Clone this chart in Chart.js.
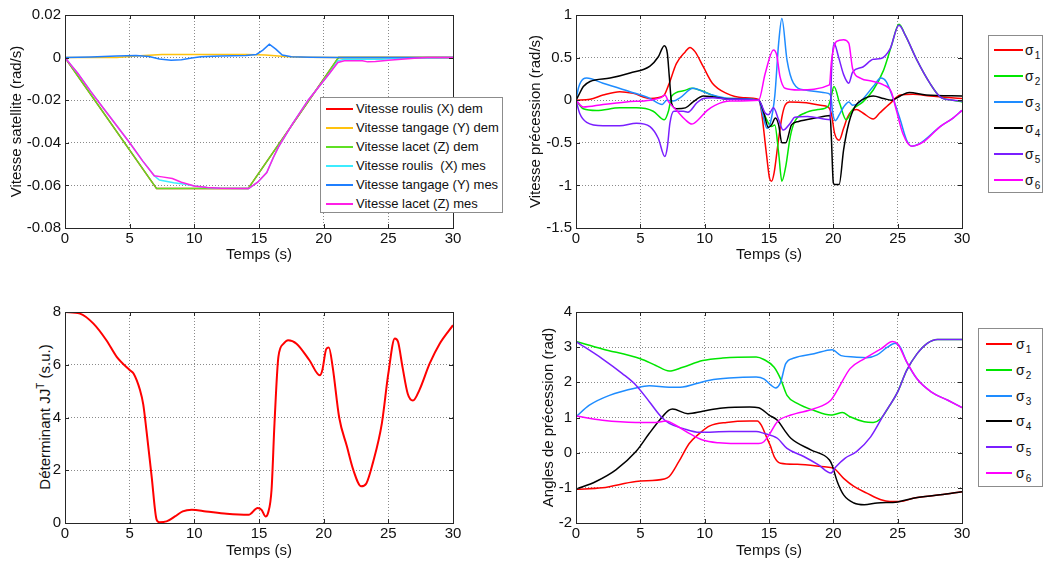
<!DOCTYPE html>
<html>
<head>
<meta charset="utf-8">
<script src="https://cdn.jsdelivr.net/npm/chart.js@4/dist/chart.umd.min.js"></script>
<style>
  body{margin:0;background:#fff;width:1045px;height:563px;overflow:hidden;position:relative;font-family:"Liberation Sans",Arial,sans-serif}
  canvas{position:absolute}
  .lg{position:absolute;background:#fff;border:1px solid #8c8c8c;box-sizing:border-box;font-size:14px;color:#111;z-index:5}
  .lg .row{position:absolute;white-space:pre;height:16px;line-height:16px}
  .lg .ln{position:absolute;height:2px}
  .lg sub{font-size:10px;vertical-align:-4px;margin-left:1px}
  .lg.small{font-size:13px}
  #ytit3{position:absolute;left:43px;top:417px;transform:translate(-50%,-50%) rotate(-90deg);white-space:nowrap;font-size:15px;color:#111;line-height:18px}
  #ytit3 sup{font-size:10px;vertical-align:6px}
</style>
</head>
<body>
<div id="ytit3">Déterminant JJ<sup>T</sup> (s.u.)</div>
<script>
// ---- data : [temps (s), valeur] ----
const xTicks = [0, 5, 10, 15, 20, 25, 30];

// panneau 1 : vitesse satellite (rad/s)
const p1Ticks = [-0.08, -0.06, -0.04, -0.02, 0, 0.02];
const roulisDem = [[0,0],[7.08,-0.0615],[14.16,-0.0615],[21.15,0],[30,0]];
const tangageDem = [[0,0],[4,0],[5.5,0.0008],[7.5,0.0015],[14,0.0015],[15.5,0.0012],[17,0.0005],[18.5,0.0002],[21,0],[30,0]];
const lacetDem = [[0,0],[7.08,-0.0615],[14.16,-0.0615],[21.15,0],[30,0]];
const roulisMes = [[0,0],[1,-0.0075],[2,-0.016],[3,-0.024],[4,-0.032],[5,-0.04],[6,-0.0485],[6.9,-0.0555],[7.3,-0.0575],[8.4,-0.0588],[9.3,-0.0595],[10,-0.0603],[11,-0.061],[12,-0.0613],[14.2,-0.0615],[14.9,-0.0585],[15.6,-0.054],[16.1,-0.047],[16.5,-0.042],[17.6,-0.031],[18.8,-0.02],[19.8,-0.0124],[20.5,-0.007],[21.1,-0.0015],[21.6,-0.0008],[24.5,-0.0008],[25.5,-0.0003],[30,0]];
const tangageMes = [[0,0],[2,0.0003],[4,0.0008],[5.5,0.001],[6.5,0.0005],[7.3,-0.0007],[8.2,-0.0012],[9,-0.001],[9.8,-0.0002],[10.5,0.0004],[12,0.0008],[14,0.001],[14.8,0.0015],[15.3,0.0035],[15.8,0.0063],[16.3,0.004],[16.8,0.0012],[17.5,0.0004],[19,0.0002],[21,0.0001],[23,0],[30,0]];
const lacetMes = [[0,0],[1,-0.0075],[2,-0.016],[3,-0.024],[4,-0.032],[5,-0.04],[6,-0.0485],[6.9,-0.0555],[7.5,-0.056],[8.3,-0.0568],[9,-0.0585],[10,-0.0603],[11,-0.061],[12,-0.0613],[14.2,-0.0615],[14.9,-0.0585],[15.6,-0.054],[16.1,-0.047],[16.5,-0.042],[17.6,-0.031],[18.8,-0.02],[19.8,-0.0124],[20.5,-0.007],[21.1,-0.0023],[21.6,-0.0015],[23,-0.0015],[23.4,-0.002],[24,-0.0018],[25,-0.0012],[26,-0.0008],[27,-0.0003],[28,0],[30,0]];
const p1Labels = ['Vitesse roulis (X) dem','Vitesse tangage (Y) dem','Vitesse lacet (Z) dem','Vitesse roulis  (X) mes','Vitesse tangage (Y) mes','Vitesse lacet (Z) mes'];

// panneau 2 : vitesse precession (rad/s)
const p2Ticks = [-1.5, -1, -0.5, 0, 0.5, 1];
const vSig1 = [[0,0],[1.1,0.01],[2.1,0.06],[3.4,0.1],[4.45,0.08],[5.75,0.02],[6.8,0.05],[7.2,0.18],[7.8,0.43],[8.5,0.57],[8.85,0.62],[9.25,0.57],[9.9,0.39],[10.6,0.2],[11.7,0.08],[13,0.03],[14.2,0.01],[14.4,-0.12],[14.8,-0.63],[15.05,-0.92],[15.2,-0.95],[15.4,-0.85],[15.7,-0.51],[16,-0.2],[16.25,-0.06],[16.6,-0.02],[17.9,-0.03],[19,-0.06],[19.6,-0.08],[19.85,-0.16],[20.1,-0.39],[20.45,-0.47],[20.8,-0.33],[21.1,-0.2],[21.4,-0.13],[21.8,-0.11],[22.3,-0.15],[23.1,-0.22],[23.6,-0.15],[24.4,-0.04],[25.2,0.06],[26.2,0.07],[27.5,0.05],[30,0.02]];
const vSig2 = [[0,0],[0.57,-0.1],[1.6,-0.12],[3.4,-0.09],[4.7,-0.09],[6,-0.13],[6.86,-0.23],[7.2,-0.12],[7.44,0.05],[8.35,0.11],[9,0.14],[9.6,0.12],[10.6,0.06],[11.5,0.02],[14.2,0],[14.7,-0.19],[15.2,-0.31],[15.45,-0.29],[15.75,-0.62],[16,-0.95],[16.3,-0.78],[16.65,-0.43],[17,-0.25],[17.8,-0.15],[18.8,-0.11],[19.6,-0.07],[19.8,0.02],[20.05,0.16],[20.5,-0.04],[21,-0.23],[21.5,-0.11],[22.3,-0.02],[23.1,0.12],[23.9,0.35],[24.5,0.63],[25.1,0.89],[25.6,0.76],[26.5,0.47],[27.5,0.2],[28.3,0.04],[29.3,0],[30,-0.02]];
const vSig3 = [[0,0],[0.2,0.15],[0.57,0.25],[0.83,0.26],[2.1,0.2],[4.2,0.1],[5.75,0.02],[6.7,-0.05],[7.05,0],[7.55,-0.01],[8.1,0.03],[9.1,0.14],[9.9,0.1],[10.6,0.06],[12,0.02],[14.2,0],[14.5,-0.16],[14.85,-0.33],[15.1,-0.27],[15.45,0.05],[15.75,0.67],[16,0.96],[16.4,0.47],[16.9,0.2],[17.8,0.12],[19.6,0.08],[19.8,0.05],[19.95,-0.15],[20.15,-0.24],[20.5,-0.16],[20.8,-0.08],[21.2,-0.02],[21.5,-0.06],[22,-0.03],[23.1,0.16],[23.7,0.26],[24.1,0.22],[24.6,0.04],[25.2,-0.23],[25.7,-0.47],[26.1,-0.54],[26.7,-0.51],[28.3,-0.31],[29.3,-0.21],[30,-0.12]];
const vSig4 = [[0,0],[0.18,0.05],[0.57,0.16],[1.09,0.22],[2.65,0.26],[4.2,0.32],[5.75,0.4],[6.4,0.51],[6.86,0.64],[7.1,0.55],[7.25,0.28],[7.44,-0.04],[7.82,-0.1],[8.5,-0.09],[9.1,-0.02],[9.9,0.05],[10.6,0.04],[12,0.01],[14.2,0],[14.6,-0.15],[14.95,-0.32],[15.2,-0.29],[15.5,-0.21],[15.75,-0.29],[16,-0.5],[16.3,-0.5],[16.75,-0.29],[17.3,-0.25],[18.6,-0.21],[19.75,-0.18],[19.85,-0.45],[20,-0.97],[20.1,-0.99],[20.45,-0.99],[20.8,-0.58],[21.2,-0.27],[21.7,-0.07],[22.3,0.01],[23.1,0.05],[23.9,0.02],[24.5,0],[25.2,0.05],[25.9,0.09],[27.2,0.06],[30,0.05]];
const vSig5 = [[0,0],[0.3,-0.16],[0.83,-0.26],[2.1,-0.3],[3.4,-0.3],[4.7,-0.27],[5.75,-0.31],[6.4,-0.45],[6.9,-0.66],[7.1,-0.55],[7.3,-0.27],[7.6,-0.13],[8.35,-0.13],[8.7,-0.14],[9.4,-0.03],[9.9,0.02],[10.6,0.03],[12,0.01],[14.2,0],[14.7,-0.15],[14.95,-0.17],[15.35,-0.09],[15.75,-0.23],[16.1,-0.35],[16.65,-0.27],[17,-0.2],[18,-0.19],[19.75,-0.23],[19.85,0.3],[20.05,0.67],[20.4,0.51],[20.8,0.3],[21.2,0.2],[21.5,0.33],[22.3,0.39],[23.1,0.48],[23.7,0.49],[24.4,0.6],[25.1,0.88],[25.6,0.76],[26.5,0.47],[27.5,0.2],[28.3,0.04],[29.3,0],[30,-0.01]];
const vSig6 = [[0,0],[0.57,-0.08],[2.1,-0.05],[3.9,-0.02],[5.75,0],[6.6,0.03],[6.9,0.06],[7.2,-0.02],[7.82,-0.12],[8.5,-0.23],[9,-0.28],[9.5,-0.23],[10.2,-0.12],[10.8,-0.06],[12,-0.01],[14.2,0],[14.7,0.31],[15.35,0.59],[15.6,0.53],[15.85,0.28],[16.25,0.14],[17.3,0.12],[19.7,0.18],[19.85,0.45],[20.25,0.69],[20.8,0.71],[21.2,0.67],[21.5,0.37],[22.1,0.26],[23.1,0.22],[23.9,0.18],[24.5,0.1],[24.9,-0.12],[25.4,-0.39],[26.1,-0.54],[27,-0.49],[28.3,-0.31],[29.3,-0.21],[30,-0.12]];

// panneau 3 : determinant JJ^T
const p3Ticks = [0, 2, 4, 6, 8];
const detJJ = [[0,8],[1.16,7.94],[2.2,7.56],[3.2,6.93],[4,6.3],[5,5.8],[5.3,5.67],[5.8,5.04],[6.05,4.5],[6.3,3.5],[6.7,1.76],[7.08,0.13],[7.3,0.03],[7.85,0.06],[8.5,0.25],[9.1,0.44],[9.8,0.5],[10.9,0.44],[12.5,0.35],[14.2,0.31],[14.9,0.57],[15.2,0.5],[15.5,0.25],[15.7,0.38],[15.97,1.26],[16.2,3.8],[16.5,6.3],[16.9,6.8],[17.25,6.93],[17.9,6.8],[18.9,6.17],[19.7,5.6],[19.9,5.8],[20.2,6.6],[20.4,6.65],[20.7,5.9],[21.2,4],[21.8,2.9],[22.3,2],[22.9,1.39],[23.3,1.5],[23.8,2.27],[24.5,3.78],[25,5.67],[25.5,7],[25.75,6.87],[26.1,5.9],[26.5,4.9],[26.9,4.64],[27.4,5.04],[28.2,6.05],[28.97,6.8],[30,7.5]];

// panneau 4 : angles de precession (rad)
const p4Ticks = [-2, -1, 0, 1, 2, 3, 4];
const aSig1 = [[0,-1.04],[2.05,-1],[4.66,-0.82],[6.86,-0.75],[7.25,-0.68],[8,-0.25],[8.8,0.26],[9.6,0.55],[10.4,0.76],[11.7,0.86],[13.5,0.9],[14.1,0.9],[14.4,0.78],[14.8,0.45],[15.1,0.2],[15.4,-0.11],[15.9,-0.3],[17.2,-0.33],[19.3,-0.4],[20,-0.44],[20.8,-0.73],[21.6,-0.96],[22.6,-1.15],[23.7,-1.34],[24.4,-1.39],[25.2,-1.39],[26.3,-1.29],[28.3,-1.2],[30,-1.11]];
const aSig2 = [[0,3.16],[2.05,2.95],[5,2.67],[6.2,2.48],[7.25,2.32],[8.3,2.43],[9.85,2.62],[11.4,2.69],[14,2.72],[14.6,2.65],[15.4,2.43],[15.9,2.1],[16.4,1.63],[17.2,1.4],[18.5,1.2],[19.8,1.07],[20.15,1.09],[20.7,1.14],[21.3,1.02],[22.4,0.88],[23.1,0.86],[23.7,0.97],[24.4,1.35],[25,1.73],[25.7,2.34],[26.5,2.81],[27.3,3.11],[28.1,3.22],[30,3.22]];
const aSig3 = [[0,1.02],[1.04,1.35],[2.6,1.63],[4.66,1.84],[5.7,1.9],[7.25,1.86],[8.3,1.87],[9.3,1.96],[10.4,2.06],[11.9,2.12],[14,2.15],[14.6,2.1],[15.15,1.92],[15.5,1.84],[15.9,2],[16.3,2.53],[16.95,2.69],[18.5,2.81],[19.9,2.93],[20.6,2.76],[21.6,2.72],[22.6,2.7],[23.4,2.78],[24.2,3],[24.8,3.11],[25.2,3],[25.7,2.58],[26.5,2.1],[27.6,1.73],[28.9,1.49],[30,1.28]];
const aSig4 = [[0,-1.04],[1.55,-0.82],[3.1,-0.49],[4.66,0.03],[5.7,0.55],[6.6,0.97],[7.2,1.2],[7.5,1.24],[8.7,1.11],[9.85,1.18],[11.4,1.27],[13.5,1.3],[14.2,1.28],[15,1.07],[15.65,0.92],[16.2,0.64],[16.7,0.41],[18.25,0.08],[19.7,-0.21],[19.9,-0.35],[20.3,-0.82],[20.8,-1.2],[21.6,-1.43],[22.4,-1.48],[23.4,-1.43],[25,-1.4],[26.3,-1.29],[28.3,-1.2],[30,-1.11]];
const aSig5 = [[0,3.16],[2.05,2.67],[3.6,2.25],[4.66,1.92],[5.7,1.45],[6.6,1.03],[7.25,0.83],[8.3,0.69],[9.6,0.58],[11.9,0.6],[14,0.6],[14.6,0.55],[15.65,0.41],[16.4,0.12],[17.7,-0.11],[18.85,-0.35],[19.8,-0.58],[20.2,-0.4],[20.9,-0.16],[21.8,0.03],[22.9,0.45],[23.9,1.07],[25,1.73],[25.7,2.34],[26.5,2.81],[27.3,3.11],[28.1,3.22],[30,3.22]];
const aSig6 = [[0,1.04],[2.05,0.92],[4.66,0.86],[6.2,0.86],[7,0.9],[7.75,0.78],[8.8,0.55],[9.85,0.36],[11.1,0.28],[12.4,0.26],[14.2,0.26],[14.6,0.31],[15,0.5],[15.65,0.88],[16.7,1.07],[18.5,1.25],[19.8,1.49],[20.3,1.77],[21.3,2.39],[22.4,2.67],[23.7,2.95],[24.6,3.16],[25,3.09],[25.7,2.58],[26.5,2.1],[27.6,1.73],[28.9,1.49],[30,1.28]];

const sigColors = ['#ff0000', '#00e600', '#1e8cff', '#000000', '#7a1fff', '#ff00ff'];
const p1Colors = ['#ff0000', '#ffc20e', '#5fe024', '#3cecff', '#1f7fff', '#ff1fe6'];

const FONT = '"Liberation Sans", Arial, sans-serif';
const FS = 15;

// cadre + petites graduations façon matlab
const frame = {
  id: 'frame',
  afterDatasetsDraw(c) {
    const a = c.chartArea, ctx = c.ctx, sx = c.scales.x, sy = c.scales.y;
    ctx.save();
    ctx.strokeStyle = '#262626';
    ctx.lineWidth = 1;
    ctx.beginPath();
    sx.ticks.forEach(t => {
      const p = Math.round(sx.getPixelForValue(t.value)) + 0.5;
      ctx.moveTo(p, a.bottom); ctx.lineTo(p, a.bottom - 4);
      ctx.moveTo(p, a.top); ctx.lineTo(p, a.top + 4);
    });
    sy.ticks.forEach(t => {
      const p = Math.round(sy.getPixelForValue(t.value)) + 0.5;
      ctx.moveTo(a.left, p); ctx.lineTo(a.left + 4, p);
      ctx.moveTo(a.right, p); ctx.lineTo(a.right - 4, p);
    });
    ctx.stroke();
    ctx.strokeRect(Math.round(a.left) + 0.5, Math.round(a.top) + 0.5, Math.round(a.right - a.left), Math.round(a.bottom - a.top));
    ctx.restore();
  }
};

function panel(cfg) {
  const cv = document.createElement('canvas');
  cv.width = cfg.w; cv.height = cfg.h;
  cv.style.left = cfg.left + 'px'; cv.style.top = cfg.top + 'px';
  cv.style.width = cfg.w + 'px'; cv.style.height = cfg.h + 'px';
  document.body.appendChild(cv);
  const n = cfg.series.length;
  return new Chart(cv, {
    type: 'line',
    data: {
      datasets: cfg.series.map((s, i) => ({
        label: cfg.labels ? cfg.labels[i] : 'σ' + (i + 1),
        data: s.map(p => ({ x: p[0], y: p[1] })),
        borderColor: cfg.colors[i],
        borderWidth: cfg.lw || 1.5,
        pointRadius: 0,
        cubicInterpolationMode: cfg.straight ? 'default' : 'monotone',
        tension: 0,
        fill: false,
        order: n - i
      }))
    },
    options: {
      responsive: false,
      animation: false,
      layout: { padding: { top: cfg.pt, right: cfg.pr, left: 0, bottom: 0 } },
      plugins: { legend: { display: false }, tooltip: { enabled: false } },
      scales: {
        x: {
          type: 'linear', min: 0, max: 30,
          afterBuildTicks: s => { s.ticks = xTicks.map(v => ({ value: v })); },
          afterFit: s => { s.height = cfg.xh; },
          grid: { color: '#8a8a8a', drawTicks: false, lineWidth: 1, borderDash: [1, 2] },
          border: { display: false, dash: [1, 2] },
          ticks: { padding: 2, color: '#111', font: { size: FS, family: FONT }, maxRotation: 0, autoSkip: false },
          title: { display: true, text: 'Temps (s)', color: '#111', font: { size: FS, family: FONT }, padding: { top: 0, bottom: cfg.xtp } }
        },
        y: {
          type: 'linear', min: cfg.yTicks[0], max: cfg.yTicks[cfg.yTicks.length - 1],
          afterBuildTicks: s => { s.ticks = cfg.yTicks.map(v => ({ value: v })); },
          afterFit: s => { s.width = cfg.yw; },
          grid: { color: '#8a8a8a', drawTicks: false, lineWidth: 1, borderDash: [1, 2] },
          border: { display: false, dash: [1, 2] },
          ticks: { padding: 4, color: '#111', font: { size: FS, family: FONT }, autoSkip: false, callback: v => String(v) },
          title: { display: !!cfg.ytitle, text: cfg.ytitle || '', color: '#111', font: { size: FS, family: FONT }, padding: { top: cfg.ytp, bottom: 0 } }
        }
      }
    },
    plugins: [frame]
  });
}

function legend(box, labels, colors, rows, cls) {
  const d = document.createElement('div');
  d.className = 'lg' + (cls ? ' ' + cls : '');
  Object.assign(d.style, { left: box.x + 'px', top: box.y + 'px', width: box.w + 'px', height: box.h + 'px' });
  labels.forEach((lab, i) => {
    const cy = rows.y0 + i * rows.dy;
    const ln = document.createElement('div');
    ln.className = 'ln';
    Object.assign(ln.style, { left: rows.lx + 'px', width: rows.lw + 'px', top: (cy - 1) + 'px', background: colors[i] });
    const tx = document.createElement('div');
    tx.className = 'row';
    tx.style.left = rows.tx + 'px'; tx.style.top = (cy - 8) + 'px';
    tx.innerHTML = lab;
    d.appendChild(ln); d.appendChild(tx);
  });
  document.body.appendChild(d);
}

const sigLabels = [1, 2, 3, 4, 5, 6].map(k => 'σ<sub>' + k + '</sub>');

panel({ left: 0, top: 0, w: 480, h: 265, pt: 15, pr: 27, yw: 65, xh: 37, xtp: 1, ytp: 8, straight: true,
  yTicks: p1Ticks, ytitle: 'Vitesse satellite (rad/s)', colors: p1Colors, labels: p1Labels,
  series: [roulisDem, tangageDem, lacetDem, roulisMes, tangageMes, lacetMes] });

panel({ left: 520, top: 0, w: 460, h: 265, pt: 15, pr: 18, yw: 56, xh: 37, xtp: 1, ytp: 7,
  yTicks: p2Ticks, ytitle: 'Vitesse précession (rad/s)', colors: sigColors,
  series: [vSig1, vSig2, vSig3, vSig4, vSig5, vSig6] });

panel({ left: 0, top: 285, w: 480, h: 278, pt: 27, pr: 27, yw: 65, xh: 40, xtp: 3, ytp: 0, lw: 2,
  yTicks: p3Ticks, ytitle: '', colors: ['#ff0000'],
  series: [detJJ] });

panel({ left: 520, top: 285, w: 460, h: 278, pt: 27, pr: 18, yw: 56, xh: 40, xtp: 3, ytp: 20,
  yTicks: p4Ticks, ytitle: 'Angles de précession (rad)', colors: sigColors,
  series: [aSig1, aSig2, aSig3, aSig4, aSig5, aSig6] });

legend({ x: 320, y: 97, w: 183, h: 116 }, p1Labels, p1Colors, { y0: 10.5, dy: 19, lx: 5, lw: 27, tx: 35 }, 'small');
legend({ x: 988, y: 35, w: 55, h: 158 }, sigLabels, sigColors, { y0: 14, dy: 26, lx: 5, lw: 29, tx: 36 });
legend({ x: 978, y: 328, w: 65, h: 159 }, sigLabels, sigColors, { y0: 15, dy: 25.8, lx: 7, lw: 26, tx: 37 });
</script>
</body>
</html>
